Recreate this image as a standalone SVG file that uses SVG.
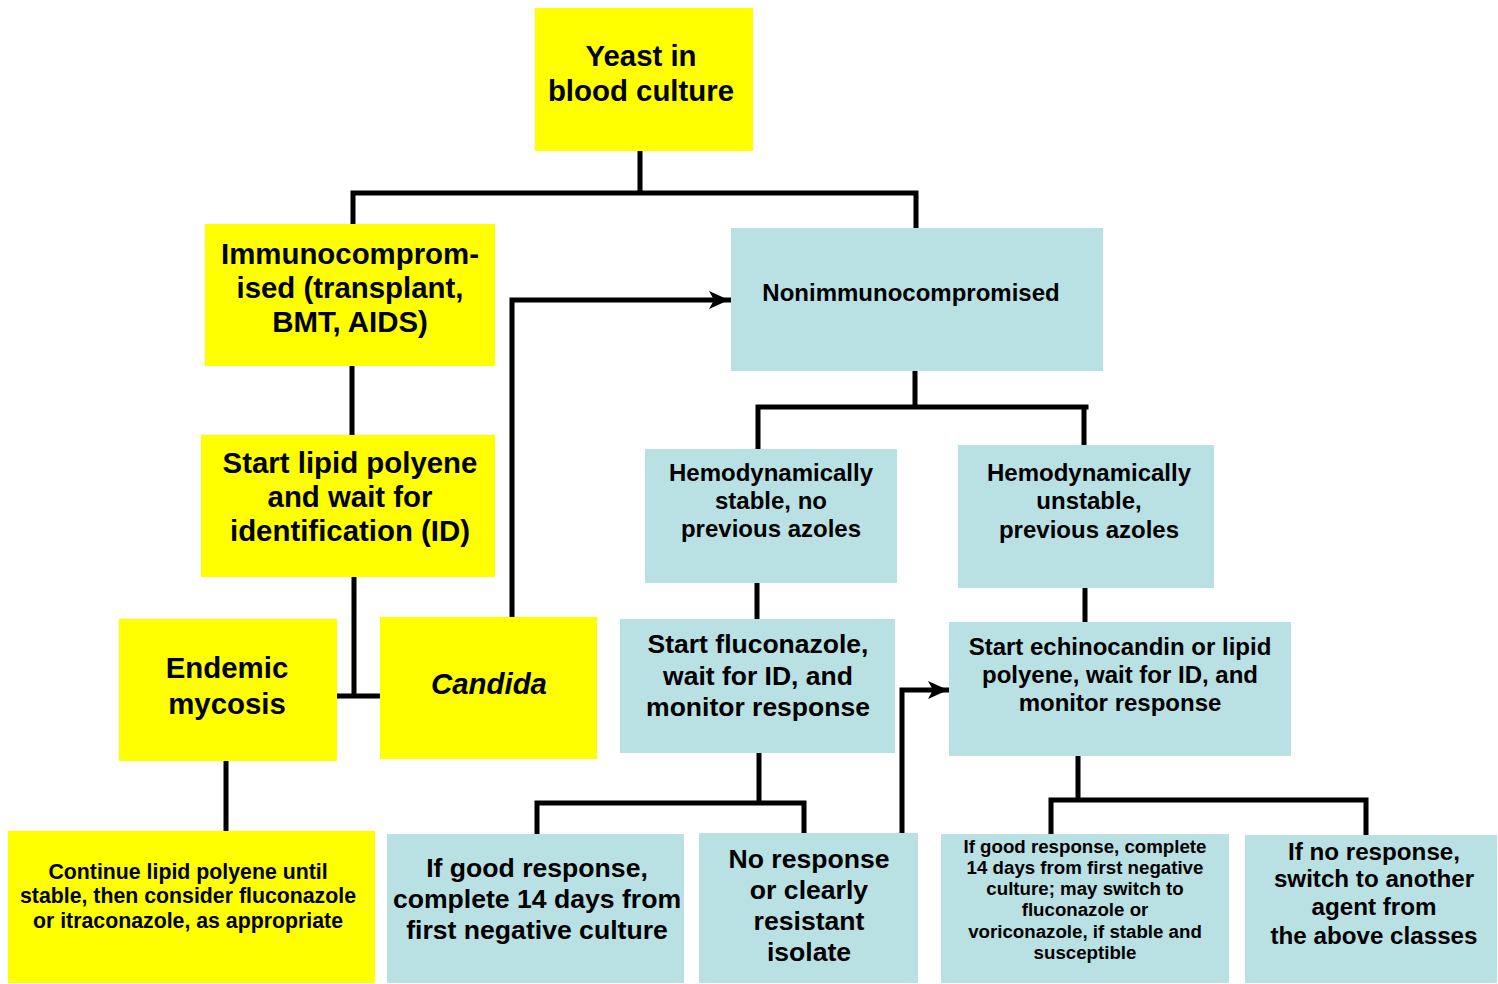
<svg xmlns="http://www.w3.org/2000/svg" width="1498" height="984" viewBox="0 0 1498 984">
<style>
.y{fill:#FFFF00}
.b{fill:#B9E0E3}
text{font-family:"Liberation Sans",Arial,sans-serif;font-weight:bold;fill:#000;text-anchor:middle}
.c{fill:none;stroke:#000;stroke-width:5;stroke-linecap:square}
</style>
<defs>
<marker id="ah" markerUnits="userSpaceOnUse" markerWidth="22" markerHeight="20" refX="20" refY="10" orient="auto">
<path d="M0,1 L20,10 L0,19 L5,10 Z" fill="#000"/>
</marker>
</defs>
<rect width="1498" height="984" fill="#fff"/>
<g id="connectors">
<path class="c" d="M640,151 V193 M353,193 H916 M353,193 V224 M916,193 V228"/>
<path class="c" d="M352,366 V435"/>
<path class="c" d="M354,577 V696 M338,696 H380"/>
<path class="c" d="M512,617 V300 H729" marker-end="url(#ah)"/>
<path class="c" d="M226,761 V831"/>
<path class="c" d="M915,371 V407 M758,407 H1086 M758,407 V449 M1084,407 V445"/>
<path class="c" d="M757,583 V619"/>
<path class="c" d="M1085,588 V622"/>
<path class="c" d="M759,753 V803 M537,803 H804 M537,803 V834 M804,803 V833"/>
<path class="c" d="M902,833 V690 H948" marker-end="url(#ah)"/>
<path class="c" d="M1078,756 V800 M1051,800 H1366 M1051,800 V834 M1366,800 V835"/>
</g>
<g id="yeast"><rect class="y" x="535" y="8" width="218" height="143"/>
<text font-size="29.4"><tspan x="641" y="66">Yeast in</tspan><tspan x="641" y="101">blood culture</tspan></text></g>
<g id="immuno"><rect class="y" x="205" y="224" width="290" height="142"/>
<text font-size="29.4"><tspan x="350" y="264">Immunocomprom-</tspan><tspan x="350" y="298">ised (transplant,</tspan><tspan x="350" y="332">BMT, AIDS)</tspan></text></g>
<g id="nonimmuno"><rect class="b" x="731" y="228" width="372" height="143"/>
<text font-size="24"><tspan x="911" y="301">Nonimmunocompromised</tspan></text></g>
<g id="lipid"><rect class="y" x="201" y="435" width="294" height="142"/>
<text font-size="29.4"><tspan x="350" y="473">Start lipid polyene</tspan><tspan x="350" y="507">and wait for</tspan><tspan x="350" y="541">identification (ID)</tspan></text></g>
<g id="endemic"><rect class="y" x="119" y="619" width="218" height="142"/>
<text font-size="29.4"><tspan x="227" y="678">Endemic</tspan><tspan x="227" y="714">mycosis</tspan></text></g>
<g id="candida"><rect class="y" x="380" y="617" width="217" height="142"/>
<text font-size="29.4" font-style="italic"><tspan x="489" y="694">Candida</tspan></text></g>
<g id="stable"><rect class="b" x="645" y="449" width="252" height="134"/>
<text font-size="24"><tspan x="771" y="481">Hemodynamically</tspan><tspan x="771" y="509">stable, no</tspan><tspan x="771" y="537">previous azoles</tspan></text></g>
<g id="unstable"><rect class="b" x="958" y="445" width="256" height="143"/>
<text font-size="24"><tspan x="1089" y="481">Hemodynamically</tspan><tspan x="1089" y="509">unstable,</tspan><tspan x="1089" y="538">previous azoles</tspan></text></g>
<g id="fluconazole"><rect class="b" x="620" y="619" width="275" height="134"/>
<text font-size="26.5"><tspan x="758" y="653">Start fluconazole,</tspan><tspan x="758" y="685">wait for ID, and</tspan><tspan x="758" y="716">monitor response</tspan></text></g>
<g id="echinocandin"><rect class="b" x="949" y="622" width="342" height="134"/>
<text font-size="24"><tspan x="1120" y="655">Start echinocandin or lipid</tspan><tspan x="1120" y="683">polyene, wait for ID, and</tspan><tspan x="1120" y="711">monitor response</tspan></text></g>
<g id="continue"><rect class="y" x="8" y="831" width="367" height="152"/>
<text font-size="21.3"><tspan x="188" y="879">Continue lipid polyene until</tspan><tspan x="188" y="903">stable, then consider fluconazole</tspan><tspan x="188" y="928">or itraconazole, as appropriate</tspan></text></g>
<g id="good1"><rect class="b" x="387" y="834" width="297" height="149"/>
<text font-size="26.6"><tspan x="537" y="877">If good response,</tspan><tspan x="537" y="908">complete 14 days from</tspan><tspan x="537" y="939">first negative culture</tspan></text></g>
<g id="noresp"><rect class="b" x="699" y="833" width="219" height="150"/>
<text font-size="26.6"><tspan x="809" y="868">No response</tspan><tspan x="809" y="899">or clearly</tspan><tspan x="809" y="930">resistant</tspan><tspan x="809" y="961">isolate</tspan></text></g>
<g id="good2"><rect class="b" x="941" y="834" width="288" height="149"/>
<text font-size="18.7"><tspan x="1085" y="853">If good response, complete</tspan><tspan x="1085" y="874">14 days from first negative</tspan><tspan x="1085" y="895">culture; may switch to</tspan><tspan x="1085" y="916">fluconazole or</tspan><tspan x="1085" y="938">voriconazole, if stable and</tspan><tspan x="1085" y="959">susceptible</tspan></text></g>
<g id="noresp2"><rect class="b" x="1245" y="835" width="252" height="148"/>
<text font-size="24.2"><tspan x="1374" y="860">If no response,</tspan><tspan x="1374" y="887">switch to another</tspan><tspan x="1374" y="915">agent from</tspan><tspan x="1374" y="944">the above classes</tspan></text></g>
</svg>
